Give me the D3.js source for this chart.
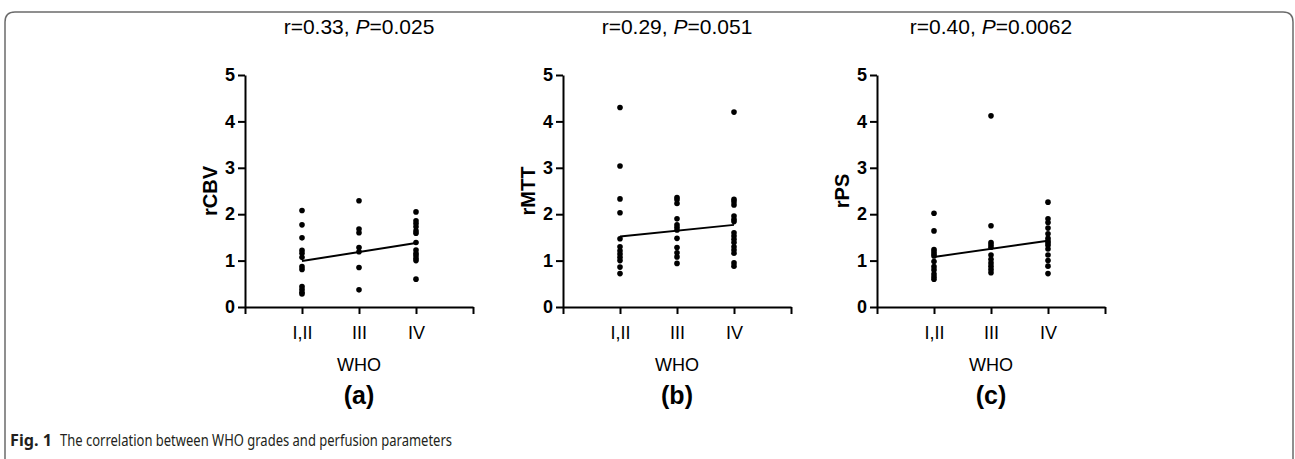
<!DOCTYPE html>
<html>
<head>
<meta charset="utf-8">
<script src="https://cdn.jsdelivr.net/npm/d3@7"></script>
<style>
  body { margin: 0; background: #fff; }
  svg { display: block; }
</style>
</head>
<body>
<svg width="1295" height="459"></svg>
<script>
const grades = ["I,II", "III", "IV"];
const yTicks = [0, 1, 2, 3, 4, 5];

// rCBV values per WHO grade
const rcbvI = [2.08, 1.77, 1.49, 1.22, 1.16, 1.07, 0.87, 0.81, 0.44, 0.38, 0.32, 0.28];
const rcbvIII = [2.29, 1.68, 1.60, 1.28, 1.19, 0.85, 0.37];
const rcbvIV = [2.05, 1.86, 1.80, 1.73, 1.64, 1.59, 1.39, 1.23, 1.16, 1.11, 1.05, 1.00, 0.60];

// rMTT values per WHO grade
const rmttI = [4.30, 3.04, 2.33, 2.03, 1.47, 1.30, 1.21, 1.14, 1.07, 1.00, 0.86, 0.72];
const rmttIII = [2.36, 2.31, 2.23, 1.90, 1.77, 1.72, 1.66, 1.48, 1.28, 1.17, 1.08, 0.94];
const rmttIV = [4.20, 2.32, 2.27, 2.20, 1.96, 1.89, 1.84, 1.60, 1.53, 1.46, 1.39, 1.30, 1.23, 1.16, 0.95, 0.88];

// rPS values per WHO grade
const rpsI = [2.02, 1.64, 1.24, 1.19, 1.14, 1.10, 0.98, 0.87, 0.80, 0.71, 0.65, 0.60];
const rpsIII = [4.12, 1.75, 1.39, 1.34, 1.29, 1.12, 1.03, 0.95, 0.88, 0.81, 0.74];
const rpsIV = [2.26, 1.90, 1.82, 1.70, 1.58, 1.48, 1.42, 1.38, 1.33, 1.25, 1.12, 1.00, 0.88, 0.72];

// fitted line ends (at I,II and IV)
const fitCBV = [0.99, 1.38];
const fitMTT = [1.52, 1.77];
const fitPS = [1.08, 1.43];

const rValues = ["0.33", "0.29", "0.40"];
const pValues = ["0.025", "0.051", "0.0062"];
const yLabels = ["rCBV", "rMTT", "rPS"];
const panelTags = ["(a)", "(b)", "(c)"];

const panels = [
  { cols: [rcbvI, rcbvIII, rcbvIV], fit: fitCBV, left: 245 },
  { cols: [rmttI, rmttIII, rmttIV], fit: fitMTT, left: 563 },
  { cols: [rpsI, rpsIII, rpsIV], fit: fitPS, left: 877 }
];

const svg = d3.select("svg");
const font = "'Liberation Sans', Arial, sans-serif";
const axisW = 228;
const plotTop = 75, plotBottom = 307;

// frame
svg.append("path")
  .attr("d", "M5,459 L5,22 Q5,12 15,12 L1283,12 Q1293,12 1293,22 L1293,459")
  .attr("fill", "none")
  .attr("stroke", "#6b6b6b")
  .attr("stroke-width", 1.5);

panels.forEach((p, i) => {
  const g = svg.append("g");

  const x = d3.scaleLinear().domain([0, 4]).range([p.left, p.left + axisW]);
  const y = d3.scaleLinear().domain([0, 5]).range([plotBottom, plotTop]);

  const xAxis = d3.axisBottom(x)
    .tickValues([0, 1, 2, 3, 4])
    .tickSizeInner(7).tickSizeOuter(0)
    .tickPadding(12)
    .tickFormat(d => grades[d - 1] || "");

  const yAxis = d3.axisLeft(y)
    .tickValues(yTicks)
    .tickSizeInner(7).tickSizeOuter(0)
    .tickPadding(3)
    .tickFormat(d3.format("d"));

  const gx = g.append("g")
    .attr("transform", `translate(0,${plotBottom})`)
    .call(xAxis);
  gx.selectAll("path, line").attr("stroke", "#000").attr("stroke-width", 2);
  gx.selectAll("text")
    .attr("font-family", font).attr("font-size", 18).attr("fill", "#000");

  const gy = g.append("g")
    .attr("transform", `translate(${p.left},0)`)
    .call(yAxis);
  gy.selectAll("path, line").attr("stroke", "#000").attr("stroke-width", 2);
  gy.selectAll("text")
    .attr("font-family", font).attr("font-size", 18)
    .attr("font-weight", "bold").attr("fill", "#000");

  // dots
  p.cols.forEach((vals, c) => {
    g.selectAll(null)
      .data(vals)
      .enter()
      .append("circle")
      .attr("cx", x(c + 1))
      .attr("cy", d => y(d))
      .attr("r", 2.8)
      .attr("fill", "#000");
  });

  // regression line
  g.append("line")
    .attr("x1", x(1)).attr("y1", y(p.fit[0]))
    .attr("x2", x(3)).attr("y2", y(p.fit[1]))
    .attr("stroke", "#000")
    .attr("stroke-width", 2);

  const cx = p.left + axisW / 2;

  // title
  const t = g.append("text")
    .attr("x", cx).attr("y", 34)
    .attr("text-anchor", "middle")
    .attr("font-family", font).attr("font-size", 21);
  t.append("tspan").text(`r=${rValues[i]}, `);
  t.append("tspan").attr("font-style", "italic").text("P");
  t.append("tspan").text(`=${pValues[i]}`);

  // y label
  g.append("text")
    .attr("transform", `translate(${p.left - 28},${y(2.5)}) rotate(-90)`)
    .attr("text-anchor", "middle")
    .attr("font-family", font).attr("font-size", 20)
    .attr("font-weight", "bold")
    .text(yLabels[i]);

  // x label
  g.append("text")
    .attr("x", cx).attr("y", 371)
    .attr("text-anchor", "middle")
    .attr("font-family", font).attr("font-size", 18)
    .text("WHO");

  // panel tag
  g.append("text")
    .attr("x", cx).attr("y", 404)
    .attr("text-anchor", "middle")
    .attr("font-family", font).attr("font-size", 25)
    .attr("font-weight", "bold")
    .text(panelTags[i]);
});

// caption
const capFont = "'Noto Sans', 'Open Sans', sans-serif";
svg.append("text")
  .attr("x", 10).attr("y", 446)
  .attr("font-family", capFont).attr("font-size", 16)
  .attr("font-weight", "bold").attr("fill", "#231f20")
  .attr("textLength", 42).attr("lengthAdjust", "spacingAndGlyphs")
  .text("Fig. 1");
svg.append("text")
  .attr("x", 60).attr("y", 446)
  .attr("font-family", capFont).attr("font-size", 16)
  .attr("fill", "#231f20")
  .attr("textLength", 392).attr("lengthAdjust", "spacingAndGlyphs")
  .text("The correlation between WHO grades and perfusion parameters");
</script>
</body>
</html>
